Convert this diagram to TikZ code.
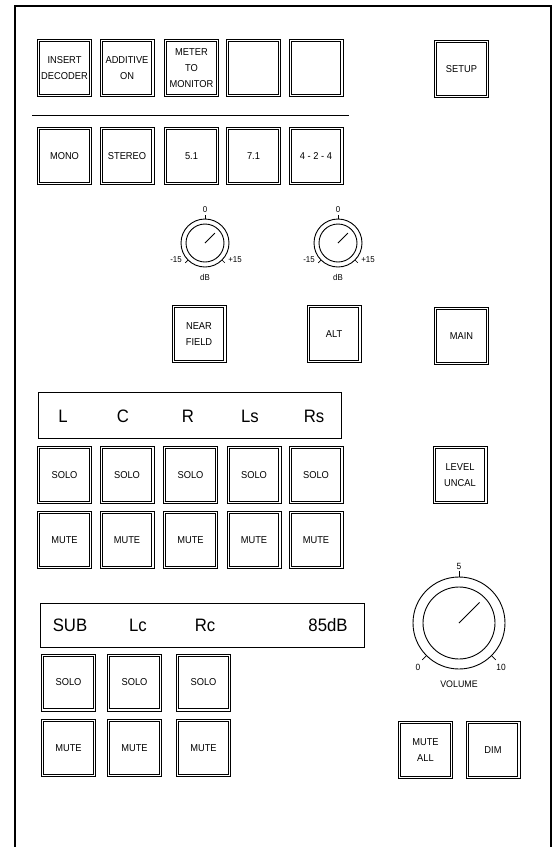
\documentclass[tikz,border=0pt]{standalone}
\usepackage{fontspec}
\setmainfont{Liberation Sans}[FakeStretch=0.93]
\usepackage{tikz}
\usetikzlibrary{calc}
\def\dialknob(#1)(#2:#3:#4:#5)% Syntax: (center) (inner radius:outer radius:pointer length:tick length)
{ \draw[line width=0.9pt] (#1) circle[radius=#2pt];
  \draw[line width=0.9pt] (#1) circle[radius=#3pt];
  \draw[line width=0.9pt] (#1) -- ++(45:#4pt);
  \draw[line width=0.7pt] ($(#1)+(90:#3pt)$) -- ++(90:#5pt);
  \draw[line width=0.7pt] ($(#1)+(225:#3pt)$) -- ++(225:#5pt);
  \draw[line width=0.7pt] ($(#1)+(-45:#3pt)$) -- ++(-45:#5pt); }

\begin{document}
\begin{tikzpicture}[x=1pt,y=1pt,
	btn/.style={draw,line width=0.6pt,minimum width=54pt,minimum height=57pt,
		inner sep=0pt,align=center,font=\fontsize{10}{16}\selectfont,
		path picture={\draw[line width=0.9pt] ([shift={(2.3pt,2.3pt)}]path picture bounding box.south west)
			rectangle ([shift={(-2.3pt,-2.3pt)}]path picture bounding box.north east);}},
	lcdtxt/.style={inner sep=0pt,font=\fontsize{18}{20}\selectfont},
	dialtxt/.style={inner sep=0pt,font=\fontsize{8.5}{9}\selectfont}]
	\useasboundingbox (0,0) rectangle (560,-847);
	\draw[line width=1.1pt] (15,-847)--(15,-6)--(551,-6)--(551,-847);	%panel
	
	% top row
	\node[btn] (insert)   at (64.5,-68)  {INSERT\\DECODER};
	\node[btn] (additive) at (127,-68)   {ADDITIVE\\ON};
	\node[btn] (meter)    at (191.5,-68) {METER\\TO\\MONITOR};
	\node[btn] (blankA)   at (253.5,-68) {};
	\node[btn] (blankB)   at (316,-68)   {};
	\node[btn] (setup)    at (461.5,-69) {SETUP};
	\draw[line width=0.9pt] (32,-115)--(349,-115);
	
	% format row
	\node[btn] (mono)   at (64.5,-156)  {MONO};
	\node[btn] (stereo) at (127,-156)   {STEREO};
	\node[btn] (five)   at (191.5,-156) {5.1};
	\node[btn] (seven)  at (253.5,-156) {7.1};
	\node[btn] (fourtwo) at (316,-156)  {4 - 2 - 4};
	
	% trim knobs
	\dialknob(205,-243)(19:24:14:4)
	\node[dialtxt] (trimAzero)  at (205,-210) {0};
	\node[dialtxt] (trimAmin)   at (176,-260) {-15};
	\node[dialtxt] (trimAmax)   at (235,-260) {+15};
	\node[dialtxt] (trimAdb)    at (205,-277) {dB};
	\dialknob(338,-243)(19:24:14:4)
	\node[dialtxt] (trimBzero)  at (338,-210) {0};
	\node[dialtxt] (trimBmin)   at (309,-260) {-15};
	\node[dialtxt] (trimBmax)   at (368,-260) {+15};
	\node[dialtxt] (trimBdb)    at (338,-277) {dB};
	
	\node[btn] (nearfield) at (199,-334)   {NEAR\\FIELD};
	\node[btn] (alt)       at (334,-334)   {ALT};
	\node[btn] (main)      at (461.5,-336) {MAIN};
	
	% main channels
	\draw[line width=0.9pt] (38,-392) rectangle (341,-438);
	\node[lcdtxt] (chL)  at (63,-416)  {L};
	\node[lcdtxt] (chC)  at (123,-416) {C};
	\node[lcdtxt] (chR)  at (188,-416) {R};
	\node[lcdtxt] (chLs) at (250,-416) {Ls};
	\node[lcdtxt] (chRs) at (314,-416) {Rs};
	\node[btn] (soloL)  at (64.5,-475)  {SOLO};
	\node[btn] (soloC)  at (127,-475)   {SOLO};
	\node[btn] (soloR)  at (190.5,-475) {SOLO};
	\node[btn] (soloLs) at (254,-475)   {SOLO};
	\node[btn] (soloRs) at (316,-475)   {SOLO};
	\node[btn] (muteL)  at (64.5,-540)  {MUTE};
	\node[btn] (muteC)  at (127,-540)   {MUTE};
	\node[btn] (muteR)  at (190.5,-540) {MUTE};
	\node[btn] (muteLs) at (254,-540)   {MUTE};
	\node[btn] (muteRs) at (316,-540)   {MUTE};
	\node[btn] (uncal)  at (460,-475)   {LEVEL\\UNCAL};
	
	% sub and centre channels
	\draw[line width=0.9pt] (40,-603) rectangle (364,-647);
	\node[lcdtxt] (chSub) at (70,-625)  {SUB};
	\node[lcdtxt] (chLc)  at (138,-625) {Lc};
	\node[lcdtxt] (chRc)  at (205,-625) {Rc};
	\node[lcdtxt] (spl)   at (328,-625) {85dB};
	\node[btn] (soloSub) at (68.5,-682.5)  {SOLO};
	\node[btn] (soloLc)  at (134.5,-682.5) {SOLO};
	\node[btn] (soloRc)  at (203.5,-682.5) {SOLO};
	\node[btn] (muteSub) at (68.5,-748)    {MUTE};
	\node[btn] (muteLc)  at (134.5,-748)   {MUTE};
	\node[btn] (muteRc)  at (203.5,-748)   {MUTE};
	
	% volume
	\dialknob(459,-623)(36:46:29:6)
	\node[dialtxt,font=\fontsize{9}{10}\selectfont] (volfive) at (459,-566) {5};
	\node[dialtxt,font=\fontsize{9}{10}\selectfont] (volzero) at (418,-667) {0};
	\node[dialtxt,font=\fontsize{9}{10}\selectfont] (volten)  at (501,-667) {10};
	\node[dialtxt,font=\fontsize{9.5}{10}\selectfont] (volume) at (459,-684) {VOLUME};
	\node[btn] (muteall) at (425.5,-750) {MUTE\\ALL};
	\node[btn] (dim)     at (493,-750)   {DIM};
\end{tikzpicture}
\end{document}
